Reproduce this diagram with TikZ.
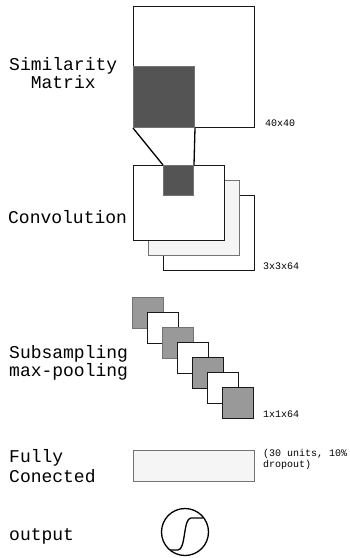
\documentclass[tikz,border=0pt]{standalone}
\usepackage{fontspec}
\setmonofont{Liberation Mono}
\begin{document}
\begin{tikzpicture}[x=1pt,y=-1pt,
  layer/.style={draw=black!90,line width=1.3pt,inner sep=0pt,anchor=north west},
  soft/.style={draw=black!55,line width=1pt,inner sep=0pt,anchor=north west},
  caption/.style={font=\ttfamily\fontsize{18}{16}\selectfont,inner sep=0pt},
  dim/.style={font=\ttfamily\fontsize{10}{11}\selectfont,inner sep=0pt,anchor=base west},
  poolgray/.style={soft,fill=black!40,minimum width=31pt,minimum height=31pt},
  pooldark/.style={layer,fill=black!40,minimum width=31pt,minimum height=31pt},
  poolwhite/.style={layer,fill=white,minimum width=31pt,minimum height=31pt}]

\useasboundingbox (0,0) rectangle (350,558);

% input matrix and its window
\node[layer,minimum width=121pt,minimum height=121pt] (sim) at (133,6) {};
\node[soft,fill=black!67,minimum width=61pt,minimum height=61pt] (simpatch) at (133,66) {};
\node[dim] at (265,126) {40x40};
\node[caption,align=center,anchor=west] (simlabel) at (9,73) {Similarity\\Matrix};

% feature maps
\node[layer,fill=white,minimum width=91pt,minimum height=75pt] (conv3) at (163,195) {};
\node[soft,fill=black!4,minimum width=91pt,minimum height=75pt] (conv2) at (148,180) {};
\node[layer,fill=white,minimum width=91pt,minimum height=75pt] (conv1) at (133,165) {};
\node[soft,fill=black!67,minimum width=30pt,minimum height=30pt] (convpatch) at (163,165) {};
\node[dim] at (263,269) {3x3x64};
\node[caption,anchor=west] (convlabel) at (8,217) {Convolution};

\draw[line width=1.3pt] (simpatch.south west) -- (convpatch.north west);
\draw[line width=1.3pt] (simpatch.south east) -- (convpatch.north east);

% pooled maps
\foreach \i/\s in {0/poolgray,1/poolwhite,2/poolgray,3/poolwhite,4/pooldark,5/poolwhite,6/pooldark}
{
\node[\s] (pool\i) at (132+15*\i,297+15*\i) {};
}
\node[dim] at (263,417) {1x1x64};
\node[caption,align=center,anchor=west] (poollabel) at (9,363) {Subsampling\\max-pooling};

% dense layer
\node[soft,fill=black!4,minimum width=121pt,minimum height=31pt] (fc) at (133,450) {};
\node[dim,align=left,anchor=north west] at (263,449) {(30 units, 10\%\\dropout)};
\node[caption,align=left,anchor=west,font=\ttfamily\fontsize{18}{20}\selectfont] (fclabel) at (9,466) {Fully\\Conected};

% sigmoid unit
\node[draw,circle,line width=1.3pt,minimum size=47pt,inner sep=0pt] (out) at (185,532) {};
\draw[line width=1.3pt,shift={(out.center)}] (-15,18) -- (-7,18) .. controls (1,18) and (-2,-14) .. (6,-14) -- (18,-14);
\node[caption,anchor=west] (outlabel) at (9,536) {output};

\end{tikzpicture}
\end{document}
